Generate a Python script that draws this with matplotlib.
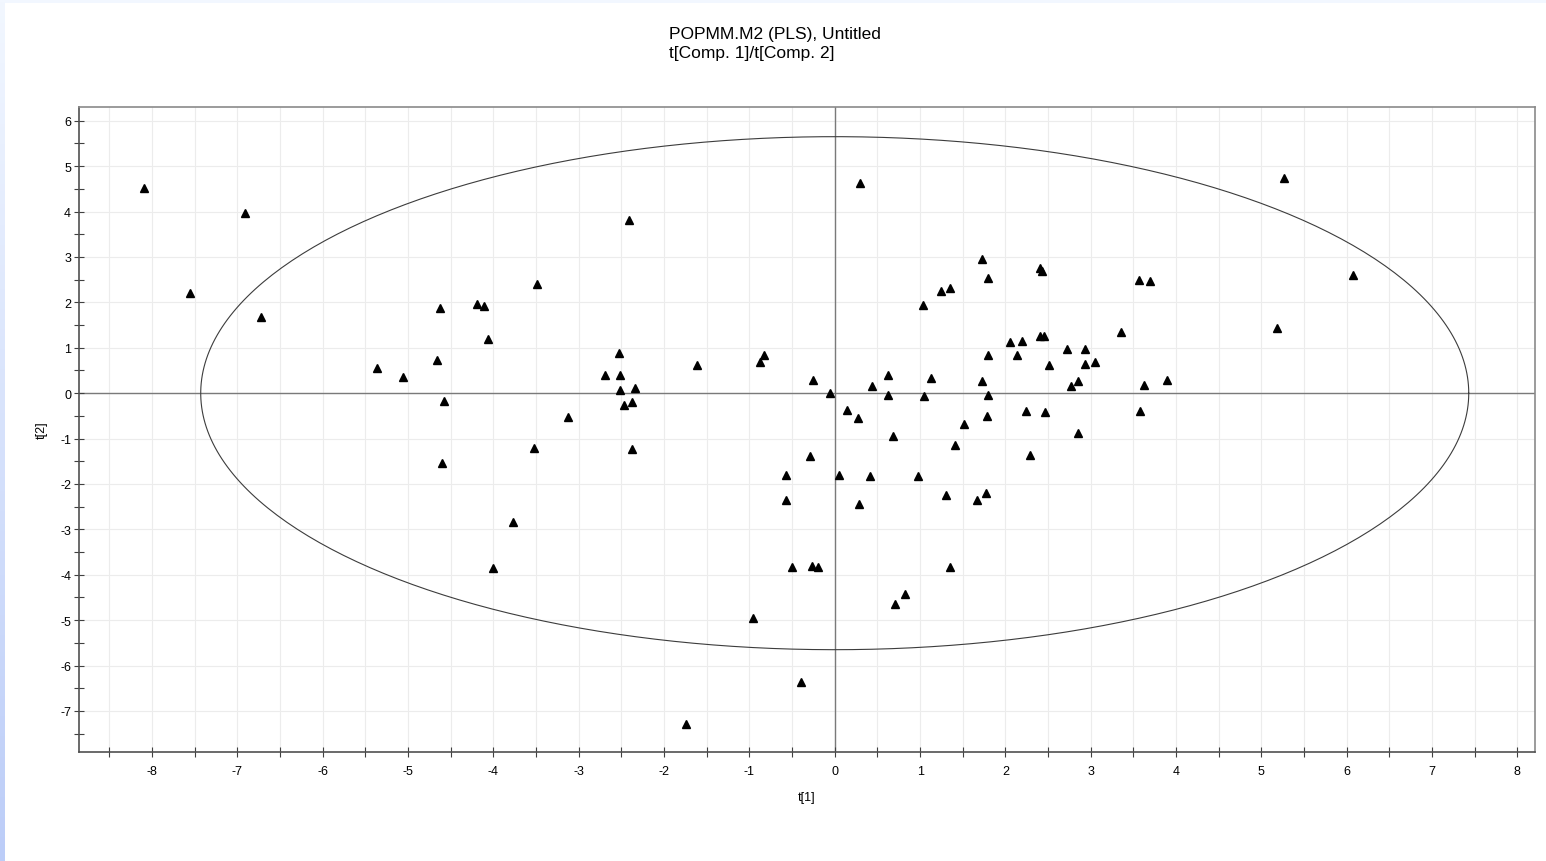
import numpy as np
import matplotlib
matplotlib.use("Agg")
import matplotlib.pyplot as plt

plt.rcParams["font.family"] = ["Liberation Sans", "DejaVu Sans"]

# =========================
# Score values
# =========================
t1 = [-8.09, -6.91, -7.56, -6.72, -5.36, -5.06, -4.63, -4.66, -4.58, -4.19,
      -4.11, -4.06, -3.49, -3.12, -3.52, -4.60, -3.77, -4.01, -2.41, -2.53,
      -2.69, -2.52, -2.52, -2.34, -2.47, -2.37, -2.37, -1.61, -0.88, -0.83,
      -1.74, -0.96, -0.40, -0.50, -0.27, -0.20, -0.57, -0.57, -0.29, -0.26,
      -0.05, 0.30, 0.44, 0.63, 0.63, 0.14, 0.27, 0.05, 0.41, 0.28,
      0.68, 0.98, 1.41, 1.51, 1.30, 1.67, 1.77, 2.29, 1.35, 0.82,
      0.71, 1.03, 1.24, 1.35, 1.13, 1.05, 1.73, 1.80, 2.41, 2.43,
      2.05, 2.19, 2.41, 2.45, 1.80, 2.14, 2.51, 1.72, 1.80, 1.78,
      2.24, 2.46, 2.85, 3.56, 3.69, 5.27, 6.07, 5.18, 3.36, 2.72,
      2.93, 2.93, 3.05, 2.85, 2.77, 3.63, 3.89, 3.58]
t2 = [4.52, 3.97, 2.21, 1.68, 0.55, 0.36, 1.87, 0.74, -0.17, 1.96,
      1.93, 1.19, 2.40, -0.53, -1.20, -1.53, -2.83, -3.85, 3.81, 0.88,
      0.39, 0.41, 0.08, 0.11, -0.27, -0.19, -1.23, 0.63, 0.69, 0.85,
      -7.29, -4.96, -6.37, -3.83, -3.80, -3.83, -1.81, -2.36, -1.39, 0.30,
      0.00, 4.64, 0.15, 0.39, -0.03, -0.36, -0.55, -1.81, -1.83, -2.44,
      -0.95, -1.83, -1.14, -0.68, -2.25, -2.36, -2.20, -1.37, -3.83, -4.43,
      -4.65, 1.94, 2.24, 2.31, 0.33, -0.07, 2.95, 2.53, 2.75, 2.70,
      1.13, 1.16, 1.25, 1.26, 0.85, 0.83, 0.61, 0.27, -0.03, -0.50,
      -0.39, -0.41, -0.87, 2.49, 2.46, 4.75, 2.60, 1.44, 1.35, 0.97,
      0.97, 0.64, 0.69, 0.27, 0.15, 0.17, 0.30, -0.39]

# Hotelling T2 ellipse semi-axes
ell_a = 7.43
ell_b = 5.65

x_ticks = list(range(-8, 9))
y_ticks = list(range(-7, 7))

# =========================
# Figure
# =========================
fig = plt.figure(figsize=(15.46, 8.62), dpi=100)

# light blue window border (left + top), darker towards the bottom
bg = fig.add_axes([0, 0, 1, 1], zorder=-10)
grad = np.linspace(0, 1, 256).reshape(-1, 1)
bg.imshow(grad, extent=[0, 1, 0, 1], aspect="auto", origin="lower",
          cmap=matplotlib.colors.LinearSegmentedColormap.from_list(
              "edge", ["#bccdf8", "#f2f7ff"]))
bg.add_patch(plt.Rectangle((5 / 1546, 0), 1, 1 - 4 / 862, color="white", lw=0))
bg.add_patch(plt.Rectangle((5 / 1546, 1 - 4 / 862), 1, 4 / 862, color="#f2f7ff", lw=0))
bg.set_xlim(0, 1)
bg.set_ylim(0, 1)
bg.axis("off")

ax = fig.add_axes([78.7 / 1546, 1 - 753.3 / 862,
                   (1535.3 - 78.7) / 1546, (753.3 - 107.7) / 862])
ax.set_xlim(-8.86, 8.21)
ax.set_ylim(-7.91, 6.31)

# grid: vertical every 0.5, horizontal every 1
for gx in np.arange(-8.5, 8.1, 0.5):
    ax.axvline(gx, color="#ececec", lw=0.8, zorder=0)
for gy in y_ticks:
    ax.axhline(gy, color="#ececec", lw=0.8, zorder=0)

ax.axhline(0, color="#7a7a7a", lw=1.0, zorder=1)
ax.axvline(0, color="#7a7a7a", lw=1.0, zorder=1)

theta = np.linspace(0, 2 * np.pi, 400)
ax.plot(ell_a * np.cos(theta), ell_b * np.sin(theta), color="#3c3c3c", lw=0.8, zorder=2)

ax.plot(t1, t2, linestyle="none", marker="^", ms=6, color="black", zorder=3)

ax.set_xticks(x_ticks)
ax.set_xticks(np.arange(-8.5, 8.1, 0.5), minor=True)
ax.set_yticks(y_ticks)
ax.set_yticks(np.arange(-7.5, 6.1, 0.5), minor=True)
ax.set_xticklabels([str(v) for v in x_ticks])
ax.set_yticklabels([str(v) for v in y_ticks])
ax.tick_params(which="both", direction="inout", length=7, width=0.8,
               color="#404040", labelsize=9)
ax.tick_params(axis="x", pad=6)
ax.tick_params(axis="y", pad=2)

for side in ["left", "bottom"]:
    ax.spines[side].set_color("#505050")
    ax.spines[side].set_linewidth(1.2)
for side in ["top", "right"]:
    ax.spines[side].set_color("#8a8a8a")
    ax.spines[side].set_linewidth(1.2)

ax.set_xlabel("t[1]", fontsize=9, labelpad=10)
ax.set_ylabel("t[2]", fontsize=9, labelpad=9)

fig.text(669 / 1546, 1 - 39 / 862, "POPMM.M2 (PLS), Untitled", fontsize=12.5, ha="left", va="baseline")
fig.text(669 / 1546, 1 - 58 / 862, "t[Comp. 1]/t[Comp. 2]", fontsize=12.5, ha="left", va="baseline")

fig.savefig("out.png", dpi=100)
